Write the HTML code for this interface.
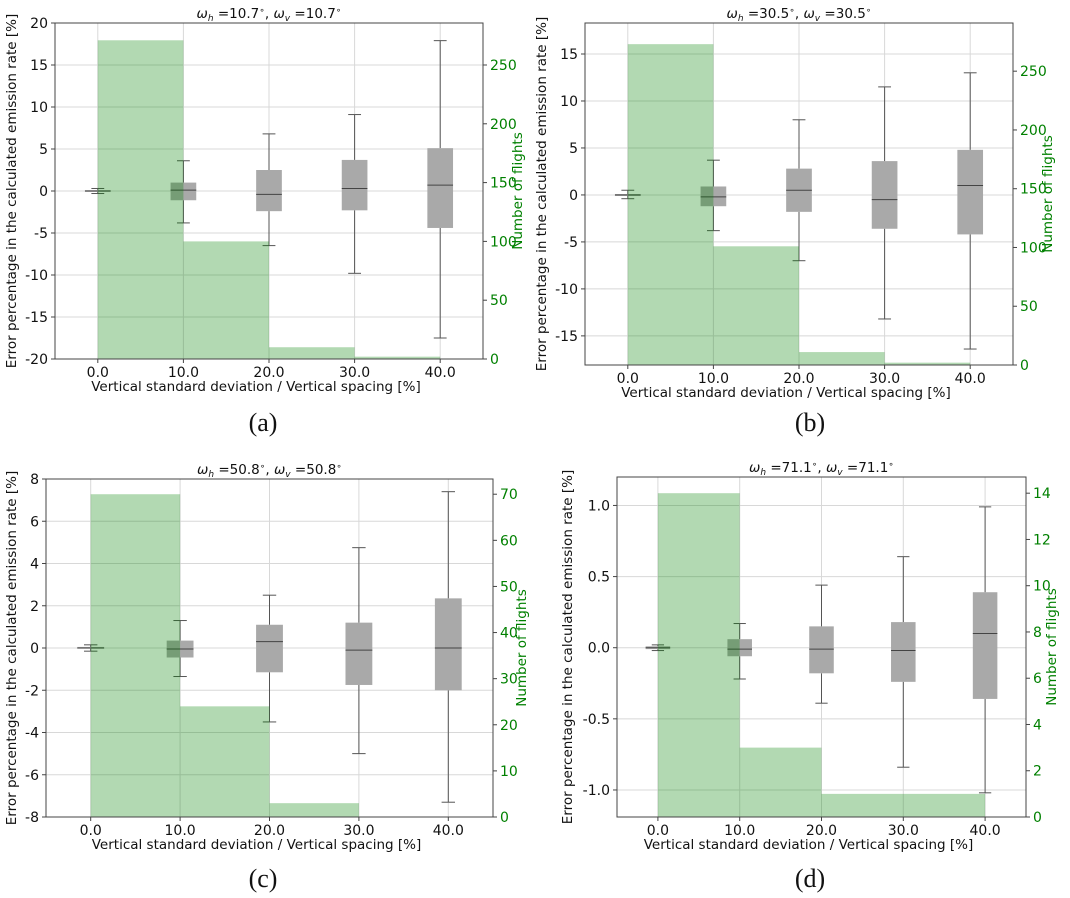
<!DOCTYPE html>
<html><head><meta charset="utf-8">
<style>
body{margin:0;background:#fff;}
svg{display:block;font-family:"DejaVu Sans","Liberation Sans",sans-serif;}
</style></head>
<body>
<svg id="fig" width="1070" height="898" viewBox="0 0 1070 898"></svg>
<script>
const xCats = [0, 10, 20, 30, 40];
const xTickLabels = ["0.0","10.0","20.0","30.0","40.0"];
// panel a
const aWlo=[-0.3,-3.8,-6.5,-9.8,-17.5], aQ1=[-0.1,-1.1,-2.4,-2.3,-4.4], aMed=[0,0.1,-0.4,0.3,0.7], aQ3=[0.1,1.0,2.5,3.7,5.1], aWhi=[0.3,3.6,6.8,9.1,17.9];
const aCounts=[271,100,10,2];
const aLeftTicks=[-20,-15,-10,-5,0,5,10,15,20], aRightTicks=[0,50,100,150,200,250];
// panel b
const bWlo=[-0.4,-3.8,-7.0,-13.2,-16.4], bQ1=[-0.1,-1.2,-1.8,-3.6,-4.2], bMed=[0,-0.2,0.5,-0.5,1.0], bQ3=[0.1,0.9,2.8,3.6,4.8], bWhi=[0.5,3.7,8.0,11.5,13.0];
const bCounts=[273,101,11,2];
const bLeftTicks=[-15,-10,-5,0,5,10,15], bRightTicks=[0,50,100,150,200,250];
// panel c
const cWlo=[-0.15,-1.35,-3.5,-5.0,-7.3], cQ1=[-0.03,-0.45,-1.15,-1.75,-2.0], cMed=[0,-0.05,0.3,-0.1,0], cQ3=[0.05,0.35,1.1,1.2,2.35], cWhi=[0.15,1.3,2.5,4.75,7.4];
const cCounts=[70,24,3,0];
const cLeftTicks=[-8,-6,-4,-2,0,2,4,6,8], cRightTicks=[0,10,20,30,40,50,60,70];
// panel d
const dWlo=[-0.02,-0.22,-0.39,-0.84,-1.02], dQ1=[-0.01,-0.06,-0.18,-0.24,-0.36], dMed=[0,-0.01,-0.01,-0.02,0.10], dQ3=[0.01,0.06,0.15,0.18,0.39], dWhi=[0.02,0.17,0.44,0.64,0.99];
const dCounts=[14,3,1,1];
const dLeftTicks=[-1.0,-0.5,0.0,0.5,1.0], dRightTicks=[0,2,4,6,8,10,12,14];

const NS="http://www.w3.org/2000/svg";
const fig=document.getElementById('fig');
function mk(tag,attrs,parent,text){const e=document.createElementNS(NS,tag);for(const k in attrs)e.setAttribute(k,attrs[k]);if(text!==undefined)e.textContent=text;(parent||fig).appendChild(e);return e;}

function panel(p){
  const g=mk('g',{});
  
  
  const X=v=>p.L+(v+5)/50*(p.R-p.L);
  const Y=v=>p.B-(v-p.ymin)/(p.ymax-p.ymin)*(p.B-p.T);
  const Y2=v=>p.B-v/p.y2max*(p.B-p.T);
  xCats.forEach(v=>{const l=mk('line',{x1:X(v),x2:X(v),y1:p.T,y2:p.B,stroke:'#d8d8d8','stroke-width':1},g);});
  p.lt.forEach(v=>{const l=mk('line',{x1:p.L,x2:p.R,y1:Y(v),y2:Y(v),stroke:'#d8d8d8','stroke-width':1},g);});
  for(let i=0;i<xCats.length;i++){
    const cx=X(xCats[i]),hw=1.5/50*(p.R-p.L),cw=0.75/50*(p.R-p.L);
    const bx=mk('g',{},g);
    
    
    mk('line',{x1:cx,x2:cx,y1:Y(p.whi[i]),y2:Y(p.q3[i]),stroke:'#555','stroke-width':1},bx);
    mk('line',{x1:cx,x2:cx,y1:Y(p.q1[i]),y2:Y(p.wlo[i]),stroke:'#555','stroke-width':1},bx);
    mk('line',{x1:cx-cw,x2:cx+cw,y1:Y(p.whi[i]),y2:Y(p.whi[i]),stroke:'#555','stroke-width':1},bx);
    mk('line',{x1:cx-cw,x2:cx+cw,y1:Y(p.wlo[i]),y2:Y(p.wlo[i]),stroke:'#555','stroke-width':1},bx);
    const h=Math.max(1,Y(p.q1[i])-Y(p.q3[i]));
    mk('rect',{x:cx-hw,y:Y(p.q3[i]),width:2*hw,height:h,fill:'#a9a9a9'},bx);
    mk('line',{x1:cx-hw,x2:cx+hw,y1:Y(p.med[i]),y2:Y(p.med[i]),stroke:'#444','stroke-width':1},bx);
  }
  for(let i=0;i<p.counts.length;i++){
    if(p.counts[i]<=0)continue;
    const r=mk('rect',{x:X(xCats[i]),y:Y2(p.counts[i]),width:X(xCats[i+1])-X(xCats[i]),height:p.B-Y2(p.counts[i]),fill:'green','fill-opacity':0.3},g);
    
    
  }
  const fr=mk('rect',{x:p.L,y:p.T,width:p.R-p.L,height:p.B-p.T,fill:'none',stroke:'#444','stroke-width':1},g);
  
  
  xCats.forEach((v,i)=>{
    mk('line',{x1:X(v),x2:X(v),y1:p.B,y2:p.B+4,stroke:'#444'},g);
    const t=mk('text',{x:X(v),y:p.B+18,'text-anchor':'middle','font-size':14,fill:'#111'},g,xTickLabels[i]);
    
    
  });
  p.lt.forEach(v=>{
    mk('line',{x1:p.L-4,x2:p.L,y1:Y(v),y2:Y(v),stroke:'#444'},g);
    const t=mk('text',{x:p.L-7,y:Y(v)+5,'text-anchor':'end','font-size':14,fill:'#111'},g,p.fmt(v));
    
    
  });
  p.rt.forEach(v=>{
    mk('line',{x1:p.R,x2:p.R+4,y1:Y2(v),y2:Y2(v),stroke:'#444'},g);
    const t=mk('text',{x:p.R+7,y:Y2(v)+5,'font-size':14,fill:'green'},g,String(v));
    
    
  });
  const xl=mk('text',{x:(p.L+p.R)/2-13,y:p.B+32,'text-anchor':'middle','font-size':13.5,fill:'#111'},g,'Vertical standard deviation / Vertical spacing [%]');
  
  
  const ly=(p.T+p.B)/2;
  const yl=mk('text',{x:p.lx,y:ly,'text-anchor':'middle','font-size':13.5,fill:'#111',transform:`rotate(-90 ${p.lx} ${ly})`},g,'Error percentage in the calculated emission rate [%]');
  
  
  const yr=mk('text',{x:p.rx,y:ly,'text-anchor':'middle','font-size':13.5,fill:'green',transform:`rotate(-90 ${p.rx} ${ly})`},g,'Number of flights');
  
  
  const tt=mk('text',{x:(p.L+p.R)/2,y:p.T-5,'text-anchor':'middle','font-size':13.5,fill:'#111'},g);
  tt.innerHTML=`<tspan font-style="italic">ω</tspan><tspan font-size="9" dy="3" font-style="italic">h</tspan><tspan dy="-3"> =${p.w}</tspan><tspan font-size="9" dy="-5">∘</tspan><tspan dy="5">, </tspan><tspan font-style="italic">ω</tspan><tspan font-size="9" dy="3" font-style="italic">v</tspan><tspan dy="-3"> =${p.w}</tspan><tspan font-size="9" dy="-5">∘</tspan>`;
  
  
  const cp=mk('text',{x:p.capx,y:p.capy,'text-anchor':'middle','font-size':26,'font-family':'Liberation Serif, serif',fill:'#111'},g,'('+p.id+')');
  
  
}
const f0=v=>String(v), f1=v=>v.toFixed(1);
panel({id:'a',L:55,R:483,T:23,B:359,ymin:-20,ymax:20,y2max:285.7,wlo:aWlo,q1:aQ1,med:aMed,q3:aQ3,whi:aWhi,counts:aCounts,lt:aLeftTicks,rt:aRightTicks,fmt:f0,lx:16,rx:522,w:'10.7',capx:263,capy:431});
panel({id:'b',L:585,R:1013,T:23,B:365,ymin:-18.1,ymax:18.3,y2max:291,wlo:bWlo,q1:bQ1,med:bMed,q3:bQ3,whi:bWhi,counts:bCounts,lt:bLeftTicks,rt:bRightTicks,fmt:f0,lx:546,rx:1052,w:'30.5',capx:810,capy:431});
panel({id:'c',L:46,R:493,T:479,B:817,ymin:-8,ymax:8,y2max:73.3,wlo:cWlo,q1:cQ1,med:cMed,q3:cQ3,whi:cWhi,counts:cCounts,lt:cLeftTicks,rt:cRightTicks,fmt:f0,lx:16,rx:526,w:'50.8',capx:263,capy:887});
panel({id:'d',L:617,R:1026,T:477,B:817,ymin:-1.19,ymax:1.2,y2max:14.7,wlo:dWlo,q1:dQ1,med:dMed,q3:dQ3,whi:dWhi,counts:dCounts,lt:dLeftTicks,rt:dRightTicks,fmt:f1,lx:572,rx:1056,w:'71.1',capx:810,capy:887});
</script>
</body></html>
